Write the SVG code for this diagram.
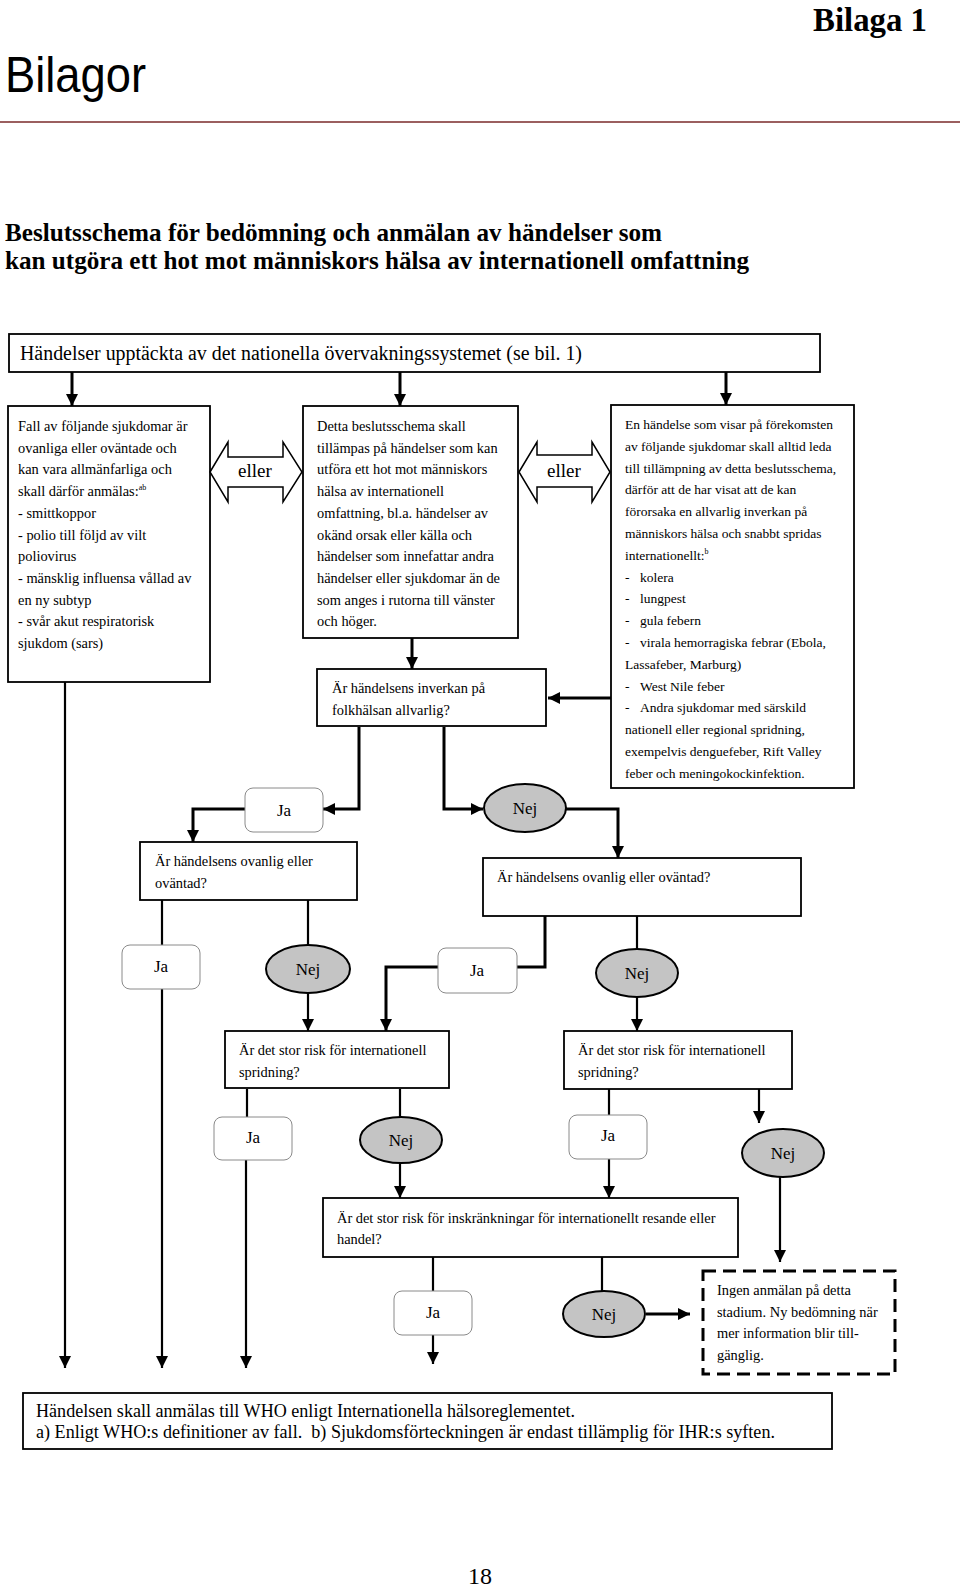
<svg xmlns="http://www.w3.org/2000/svg" width="960" height="1588" viewBox="0 0 960 1588">
<defs>
<style>
.t{font-family:"Liberation Serif","Times New Roman",serif;fill:#000}
.b14{font-size:14.4px}
.b13{font-size:13.5px}
.box{fill:#fff;stroke:#000;stroke-width:1.8}
.ja{fill:#fff;stroke:#8a8a8a;stroke-width:1}
.nej{fill:#c4c4c4;stroke:#000;stroke-width:2}
.yn{font-family:"Liberation Serif","Times New Roman",serif;font-size:17px;text-anchor:middle}
.c3{fill:none;stroke:#000;stroke-width:3}
.c2{fill:none;stroke:#000;stroke-width:2.2}
.sup{font-size:8px}
</style>
<marker id="ah" markerUnits="userSpaceOnUse" markerWidth="12" markerHeight="12" viewBox="0 0 12 12" refX="12" refY="6" orient="auto">
<path d="M0,0 L12,6 L0,12 z" fill="#000"/>
</marker>
</defs>
<rect width="960" height="1588" fill="#fff"/>

<g id="header">
<text class="t" x="813" y="31" font-size="33" font-weight="bold" textLength="114" lengthAdjust="spacingAndGlyphs">Bilaga 1</text>
<text x="5" y="92" font-family="Liberation Sans, Arial, sans-serif" font-size="50" textLength="141" lengthAdjust="spacingAndGlyphs">Bilagor</text>
<line x1="0" y1="122" x2="960" y2="122" stroke="#7a2a2a" stroke-width="1.5"/>
<text class="t" x="5" y="241" font-size="26" font-weight="bold" textLength="657" lengthAdjust="spacingAndGlyphs">Beslutsschema för bedömning och anmälan av händelser som</text>
<text class="t" x="5" y="269" font-size="26" font-weight="bold" textLength="744" lengthAdjust="spacingAndGlyphs">kan utgöra ett hot mot människors hälsa av internationell omfattning</text>
</g>

<g id="connectors">
<line class="c3" x1="72" y1="372" x2="72" y2="406" marker-end="url(#ah)"/>
<line class="c3" x1="400" y1="372" x2="400" y2="406" marker-end="url(#ah)"/>
<line class="c3" x1="726" y1="372" x2="726" y2="405" marker-end="url(#ah)"/>
<line class="c3" x1="412" y1="638" x2="412" y2="669" marker-end="url(#ah)"/>
<line class="c3" x1="612" y1="698" x2="548" y2="698" marker-end="url(#ah)"/>
<line class="c2" x1="65" y1="682" x2="65" y2="1368" marker-end="url(#ah)"/>
<polyline class="c3" points="359,727 359,809 323,809" marker-end="url(#ah)"/>
<polyline class="c3" points="245,809 193,809 193,842" marker-end="url(#ah)"/>
<polyline class="c3" points="444,727 444,809 483,809" marker-end="url(#ah)"/>
<polyline class="c3" points="566,809 618,809 618,858" marker-end="url(#ah)"/>
<line class="c2" x1="162" y1="900" x2="162" y2="945"/>
<line class="c2" x1="162" y1="989" x2="162" y2="1368" marker-end="url(#ah)"/>
<line class="c2" x1="308" y1="900" x2="308" y2="945"/>
<line class="c2" x1="308" y1="993" x2="308" y2="1031" marker-end="url(#ah)"/>
<polyline class="c3" points="545,916 545,967 517,967"/>
<polyline class="c3" points="438,967 386,967 386,1031" marker-end="url(#ah)"/>
<line class="c2" x1="637" y1="916" x2="637" y2="949"/>
<line class="c2" x1="637" y1="997" x2="637" y2="1031" marker-end="url(#ah)"/>
<line class="c2" x1="247" y1="1089" x2="247" y2="1117"/>
<line class="c2" x1="246" y1="1160" x2="246" y2="1368" marker-end="url(#ah)"/>
<line class="c2" x1="400" y1="1089" x2="400" y2="1117"/>
<line class="c2" x1="400" y1="1163" x2="400" y2="1198" marker-end="url(#ah)"/>
<line class="c2" x1="609" y1="1089" x2="609" y2="1115"/>
<line class="c2" x1="609" y1="1159" x2="609" y2="1198" marker-end="url(#ah)"/>
<line class="c2" x1="759" y1="1089" x2="759" y2="1123" marker-end="url(#ah)"/>
<line class="c2" x1="780" y1="1177" x2="780" y2="1262" marker-end="url(#ah)"/>
<line class="c2" x1="433" y1="1257" x2="433" y2="1291"/>
<line class="c2" x1="433" y1="1335" x2="433" y2="1364" marker-end="url(#ah)"/>
<line class="c2" x1="602" y1="1257" x2="602" y2="1291"/>
<line class="c3" x1="646" y1="1314" x2="690" y2="1314" marker-end="url(#ah)"/>
</g>

<g id="n-top">
<rect class="box" x="9" y="334" width="811" height="38"/>
<text class="t" x="20" y="360" font-size="20" textLength="562" lengthAdjust="spacingAndGlyphs">Händelser upptäckta av det nationella övervakningssystemet (se bil. 1)</text>
</g>

<g id="n-left">
<rect class="box" x="8" y="406" width="202" height="276"/>
<text class="t b14" x="18">
<tspan x="18" y="431">Fall av följande sjukdomar är</tspan>
<tspan x="18" y="452.7">ovanliga eller oväntade och</tspan>
<tspan x="18" y="474.4">kan vara allmänfarliga och</tspan>
<tspan x="18" y="496.1">skall därför anmälas:<tspan class="sup" dy="-6">ab</tspan></tspan>
<tspan x="18" y="517.8">- smittkoppor</tspan>
<tspan x="18" y="539.5">- polio till följd av vilt</tspan>
<tspan x="18" y="561.2">poliovirus</tspan>
<tspan x="18" y="582.9">- mänsklig influensa vållad av</tspan>
<tspan x="18" y="604.6">en ny subtyp</tspan>
<tspan x="18" y="626.3">- svår akut respiratorisk</tspan>
<tspan x="18" y="648">sjukdom (sars)</tspan>
</text>
</g>

<g id="n-eller1">
<polygon points="210,472 228,442 228,457 283,457 283,442 302,472 283,502 283,487 228,487 228,502" fill="#fff" stroke="#000" stroke-width="1.5"/>
<text class="t" x="255" y="477" font-size="19" text-anchor="middle">eller</text>
</g>

<g id="n-middle">
<rect class="box" x="303" y="406" width="215" height="232"/>
<text class="t b14">
<tspan x="317" y="431">Detta beslutsschema skall</tspan>
<tspan x="317" y="452.7">tillämpas på händelser som kan</tspan>
<tspan x="317" y="474.4">utföra ett hot mot människors</tspan>
<tspan x="317" y="496.1">hälsa av internationell</tspan>
<tspan x="317" y="517.8">omfattning, bl.a. händelser av</tspan>
<tspan x="317" y="539.5">okänd orsak eller källa och</tspan>
<tspan x="317" y="561.2">händelser som innefattar andra</tspan>
<tspan x="317" y="582.9">händelser eller sjukdomar än de</tspan>
<tspan x="317" y="604.6">som anges i rutorna till vänster</tspan>
<tspan x="317" y="626.3">och höger.</tspan>
</text>
</g>

<g id="n-eller2">
<polygon points="519,472 537,442 537,455 592,455 592,442 610,472 592,502 592,487 537,487 537,502" fill="#fff" stroke="#000" stroke-width="1.5"/>
<text class="t" x="564" y="477" font-size="19" text-anchor="middle">eller</text>
</g>

<g id="n-right">
<rect class="box" x="611" y="405" width="243" height="383"/>
<text class="t b13">
<tspan x="625" y="429">En händelse som visar på förekomsten</tspan>
<tspan x="625" y="450.8">av följande sjukdomar skall alltid leda</tspan>
<tspan x="625" y="472.6">till tillämpning av detta beslutsschema,</tspan>
<tspan x="625" y="494.4">därför att de har visat att de kan</tspan>
<tspan x="625" y="516.2">förorsaka en allvarlig inverkan på</tspan>
<tspan x="625" y="538">människors hälsa och snabbt spridas</tspan>
<tspan x="625" y="559.8">internationellt:<tspan class="sup" dy="-6">b</tspan></tspan>
<tspan x="625" y="581.6">-</tspan><tspan x="640" y="581.6">kolera</tspan>
<tspan x="625" y="603.4">-</tspan><tspan x="640" y="603.4">lungpest</tspan>
<tspan x="625" y="625.2">-</tspan><tspan x="640" y="625.2">gula febern</tspan>
<tspan x="625" y="647">-</tspan><tspan x="640" y="647">virala hemorragiska febrar (Ebola,</tspan>
<tspan x="625" y="668.8">Lassafeber, Marburg)</tspan>
<tspan x="625" y="690.6">-</tspan><tspan x="640" y="690.6">West Nile feber</tspan>
<tspan x="625" y="712.4">-</tspan><tspan x="640" y="712.4">Andra sjukdomar med särskild</tspan>
<tspan x="625" y="734.2">nationell eller regional spridning,</tspan>
<tspan x="625" y="756">exempelvis denguefeber, Rift Valley</tspan>
<tspan x="625" y="777.8">feber och meningokockinfektion.</tspan>
</text>
</g>

<g id="n-inverkan">
<rect class="box" x="317" y="669" width="229" height="57"/>
<text class="t b14"><tspan x="332" y="693">Är händelsens inverkan på</tspan><tspan x="332" y="715">folkhälsan allvarlig?</tspan></text>
</g>

<g id="n-ja1"><rect class="ja" x="245" y="788" width="78" height="44" rx="8"/><text class="yn" x="284" y="816">Ja</text></g>
<g id="n-nej1"><ellipse class="nej" cx="525" cy="808" rx="41" ry="24"/><text class="yn" x="525" y="814">Nej</text></g>

<g id="n-ovanlig1">
<rect class="box" x="140" y="842" width="217" height="58"/>
<text class="t b14"><tspan x="155" y="866">Är händelsens ovanlig eller</tspan><tspan x="155" y="888">oväntad?</tspan></text>
</g>
<g id="n-ovanlig2">
<rect class="box" x="483" y="858" width="318" height="58"/>
<text class="t b14" x="497" y="882">Är händelsens ovanlig eller oväntad?</text>
</g>

<g id="n-ja2"><rect class="ja" x="122" y="945" width="78" height="44" rx="8"/><text class="yn" x="161" y="972">Ja</text></g>
<g id="n-nej2"><ellipse class="nej" cx="308" cy="969" rx="42" ry="24"/><text class="yn" x="308" y="975">Nej</text></g>
<g id="n-ja3"><rect class="ja" x="438" y="948" width="79" height="45" rx="8"/><text class="yn" x="477" y="976">Ja</text></g>
<g id="n-nej3"><ellipse class="nej" cx="637" cy="973" rx="41" ry="24"/><text class="yn" x="637" y="979">Nej</text></g>

<g id="n-risk1">
<rect class="box" x="225" y="1031" width="224" height="57"/>
<text class="t b14"><tspan x="239" y="1055">Är det stor risk för internationell</tspan><tspan x="239" y="1077">spridning?</tspan></text>
</g>
<g id="n-risk2">
<rect class="box" x="564" y="1031" width="228" height="58"/>
<text class="t b14"><tspan x="578" y="1055">Är det stor risk för internationell</tspan><tspan x="578" y="1077">spridning?</tspan></text>
</g>

<g id="n-ja4"><rect class="ja" x="214" y="1117" width="78" height="43" rx="8"/><text class="yn" x="253" y="1143">Ja</text></g>
<g id="n-nej4"><ellipse class="nej" cx="401" cy="1140" rx="41" ry="23"/><text class="yn" x="401" y="1146">Nej</text></g>
<g id="n-ja5"><rect class="ja" x="569" y="1115" width="78" height="44" rx="8"/><text class="yn" x="608" y="1141">Ja</text></g>
<g id="n-nej5"><ellipse class="nej" cx="783" cy="1153" rx="41" ry="24"/><text class="yn" x="783" y="1159">Nej</text></g>

<g id="n-inskr">
<rect class="box" x="323" y="1198" width="415" height="59"/>
<text class="t b14"><tspan x="337" y="1223">Är det stor risk för inskränkningar för internationellt resande eller</tspan><tspan x="337" y="1244">handel?</tspan></text>
</g>

<g id="n-ja6"><rect class="ja" x="394" y="1291" width="78" height="44" rx="8"/><text class="yn" x="433" y="1318">Ja</text></g>
<g id="n-nej6"><ellipse class="nej" cx="604" cy="1314" rx="41" ry="23"/><text class="yn" x="604" y="1320">Nej</text></g>

<g id="n-ingen">
<rect x="703" y="1271" width="192" height="103" fill="#fff" stroke="#000" stroke-width="3" stroke-dasharray="13 7"/>
<text class="t b14">
<tspan x="717" y="1295">Ingen anmälan på detta</tspan>
<tspan x="717" y="1317">stadium. Ny bedömning när</tspan>
<tspan x="717" y="1338">mer information blir till-</tspan>
<tspan x="717" y="1360">gänglig.</tspan>
</text>
</g>

<g id="n-bottom">
<rect class="box" x="23" y="1393" width="809" height="56"/>
<text class="t" x="36" y="1417" font-size="18" textLength="539" lengthAdjust="spacingAndGlyphs">Händelsen skall anmälas till WHO enligt Internationella hälsoreglementet.</text>
<text class="t" x="36" y="1438" font-size="18" textLength="739" lengthAdjust="spacingAndGlyphs" xml:space="preserve">a) Enligt WHO:s definitioner av fall.  b) Sjukdomsförteckningen är endast tillämplig för IHR:s syften.</text>
</g>

<g id="pagenum">
<text class="t" x="480" y="1584" font-size="24" text-anchor="middle">18</text>
</g>
</svg>
